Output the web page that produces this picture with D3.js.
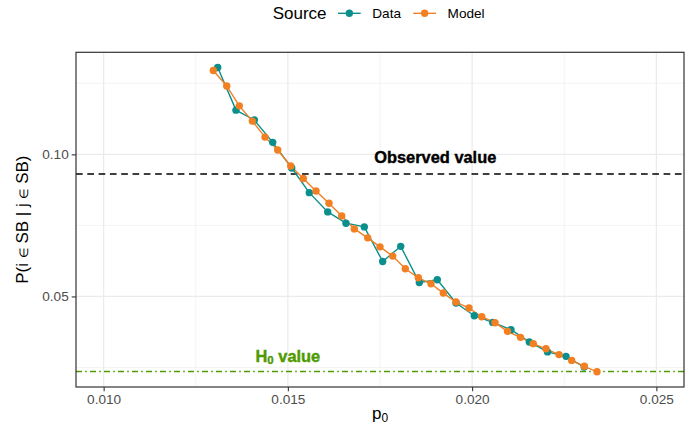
<!DOCTYPE html>
<html>
<head>
<meta charset="utf-8">
<script src="https://cdn.jsdelivr.net/npm/d3@7"></script>
<style>
  body { margin: 0; background: #fff; }
  text { font-family: "Liberation Sans", Arial, Helvetica, sans-serif; }
</style>
</head>
<body>
<svg id="chart" width="694" height="432"></svg>
<script>
// ---- data ----
const sources = ["Data", "Model"];
const sourceColors = ["#0a8f8c", "#f27f22"];

const dataP0 = [0.013096, 0.013592, 0.014089, 0.014588, 0.015104, 0.015581, 0.016081,
  0.016577, 0.017074, 0.017573, 0.018062, 0.018567, 0.019055, 0.019563, 0.020059,
  0.020559, 0.021055, 0.021552, 0.022046, 0.022548, 0.023042];
const dataP = [0.13055, 0.11555, 0.11208, 0.10421, 0.09519, 0.08652, 0.07974,
  0.07577, 0.07447, 0.06229, 0.06763, 0.05492, 0.05586, 0.04768, 0.04322,
  0.04087, 0.03831, 0.03399, 0.03048, 0.02893, 0.02514];

const modelP0 = [0.012976, 0.013340, 0.013682, 0.014035, 0.014379, 0.014724, 0.015077,
  0.015419, 0.015763, 0.016116, 0.016461, 0.016803, 0.017166, 0.017500, 0.017845,
  0.018187, 0.018540, 0.018884, 0.019218, 0.019563, 0.019915, 0.020260, 0.020621,
  0.020960, 0.021313, 0.021660, 0.022005, 0.022358, 0.022702, 0.023045, 0.023389];
const modelP = [0.12949, 0.12405, 0.11706, 0.11169, 0.10607, 0.10151, 0.09589,
  0.09150, 0.08711, 0.08279, 0.07834, 0.07377, 0.07061, 0.06745, 0.06419,
  0.05973, 0.05657, 0.05446, 0.05119, 0.04803, 0.04593, 0.04287, 0.04077,
  0.03771, 0.03560, 0.03339, 0.03157, 0.02953, 0.02749, 0.02542, 0.02349];

const observedValue = 0.0931;
const h0Value = 0.0236;

const xLimits = [0.010, 0.025];
const xTicks = [0.010, 0.015, 0.020, 0.025];
const xTickLabels = ["0.010", "0.015", "0.020", "0.025"];
const xMinor = [0.0125, 0.0175, 0.0225];
const yTicks = [0.05, 0.10];
const yTickLabels = ["0.05", "0.10"];
const yMinor = [0.025, 0.075, 0.125];

const observedLabel = { x: 0.019, y: 0.0991, text: "Observed value" };
const h0Label = { x: 0.015, y: 0.0292 };

// ---- layout ----
const W = 694, H = 432;
const panel = { left: 76, right: 684, top: 52.3, bottom: 387 };

const svg = d3.select("#chart");

function expand(lo, hi) { const d = (hi - lo) * 0.05; return [lo - d, hi + d]; }

const x = d3.scaleLinear().domain(expand(xLimits[0], xLimits[1])).range([panel.left, panel.right]);
const allY = dataP.concat(modelP, [observedValue, h0Value]);
const y = d3.scaleLinear().domain(expand(d3.min(allY), d3.max(allY))).range([panel.bottom, panel.top]);

svg.append("rect").attr("x", panel.left).attr("y", panel.top)
  .attr("width", panel.right - panel.left).attr("height", panel.bottom - panel.top)
  .attr("fill", "#fff");

const grid = svg.append("g");
xMinor.forEach(v => grid.append("line").attr("x1", x(v)).attr("x2", x(v))
  .attr("y1", panel.top).attr("y2", panel.bottom).attr("stroke", "#ebebeb").attr("stroke-width", 0.6));
yMinor.filter(v => y(v) > panel.top && y(v) < panel.bottom).forEach(v => grid.append("line")
  .attr("x1", panel.left).attr("x2", panel.right).attr("y1", y(v)).attr("y2", y(v))
  .attr("stroke", "#ebebeb").attr("stroke-width", 0.6));
xTicks.forEach(v => grid.append("line").attr("x1", x(v)).attr("x2", x(v))
  .attr("y1", panel.top).attr("y2", panel.bottom).attr("stroke", "#ebebeb").attr("stroke-width", 1.2));
yTicks.forEach(v => grid.append("line").attr("x1", panel.left).attr("x2", panel.right)
  .attr("y1", y(v)).attr("y2", y(v)).attr("stroke", "#ebebeb").attr("stroke-width", 1.2));

svg.append("line").attr("x1", panel.left).attr("x2", panel.right)
  .attr("y1", y(observedValue)).attr("y2", y(observedValue))
  .attr("stroke", "#000").attr("stroke-width", 1.5).attr("stroke-dasharray", "6.7,4.6");
svg.append("line").attr("x1", panel.left).attr("x2", panel.right)
  .attr("y1", y(h0Value)).attr("y2", y(h0Value))
  .attr("stroke", "#4f9a00").attr("stroke-width", 1.5).attr("stroke-dasharray", "6,3.2,1.6,3.2");

const series = [
  { name: sources[0], color: sourceColors[0], pts: dataP0.map((v, i) => [v, dataP[i]]) },
  { name: sources[1], color: sourceColors[1], pts: modelP0.map((v, i) => [v, modelP[i]]) }
];
const line = d3.line().x(d => x(d[0])).y(d => y(d[1]));
series.forEach(s => svg.append("path").attr("d", line(s.pts)).attr("fill", "none")
  .attr("stroke", s.color).attr("stroke-width", 1.4));
series.forEach(s => svg.append("g").selectAll("circle").data(s.pts).join("circle")
  .attr("cx", d => x(d[0])).attr("cy", d => y(d[1])).attr("r", 3.7).attr("fill", s.color));

svg.append("text").attr("x", x(observedLabel.x)).attr("y", y(observedLabel.y))
  .attr("text-anchor", "middle").attr("dominant-baseline", "central")
  .attr("font-size", 16.4).attr("font-weight", "bold").attr("fill", "#000")
  .attr("stroke", "#000").attr("stroke-width", 0.4)
  .text(observedLabel.text);
const h0t = svg.append("text").attr("x", x(h0Label.x)).attr("y", y(h0Label.y))
  .attr("text-anchor", "middle").attr("dominant-baseline", "central")
  .attr("font-size", 16.4).attr("font-weight", "bold").attr("fill", "#4f9a00")
  .attr("stroke", "#4f9a00").attr("stroke-width", 0.4);
h0t.append("tspan").text("H");
h0t.append("tspan").attr("font-size", 11.5).attr("dy", 4).text("0");
h0t.append("tspan").attr("dy", -4).text(" value");

svg.append("rect").attr("x", panel.left).attr("y", panel.top)
  .attr("width", panel.right - panel.left).attr("height", panel.bottom - panel.top)
  .attr("fill", "none").attr("stroke", "#333").attr("stroke-width", 1.2);

const xAxis = d3.axisBottom(x).tickValues(xTicks).tickFormat((d, i) => xTickLabels[i]).tickSize(4.3).tickPadding(3.5);
const gx = svg.append("g").attr("transform", `translate(0,${panel.bottom})`).call(xAxis);
const yAxis = d3.axisLeft(y).tickValues(yTicks).tickFormat((d, i) => yTickLabels[i]).tickSize(4.3).tickPadding(3);
const gy = svg.append("g").attr("transform", `translate(${panel.left},0)`).call(yAxis);
[gx, gy].forEach(g => {
  g.select(".domain").remove();
  g.selectAll(".tick line").attr("stroke", "#333").attr("stroke-width", 1.1);
  g.selectAll(".tick text").attr("fill", "#4d4d4d").attr("font-size", 13.6)
    .attr("font-family", '"Liberation Sans", Arial, sans-serif');
});

const xt = svg.append("text").attr("x", (panel.left + panel.right) / 2).attr("y", 419)
  .attr("text-anchor", "middle").attr("font-size", 17).attr("fill", "#000");
xt.append("tspan").text("p");
xt.append("tspan").attr("font-size", 12).attr("dy", 3).text("0");

const yt = svg.append("text")
  .attr("transform", `translate(28,${(panel.top + panel.bottom) / 2}) rotate(-90)`)
  .attr("text-anchor", "middle").attr("font-size", 17).attr("fill", "#000");
yt.append("tspan").text("P(i ");
yt.append("tspan").attr("font-size", 12).text("\u2208");
yt.append("tspan").text(" SB | j ");
yt.append("tspan").attr("font-size", 12).text("\u2208");
yt.append("tspan").text(" SB)");

const lg = svg.append("g");
lg.append("text").attr("x", 272.7).attr("y", 19).attr("font-size", 17).attr("fill", "#000").text("Source");
const keyX = [338, 413.3];
series.forEach((s, i) => {
  lg.append("line").attr("x1", keyX[i]).attr("x2", keyX[i] + 22.7).attr("y1", 13.3).attr("y2", 13.3)
    .attr("stroke", s.color).attr("stroke-width", 1.4);
  lg.append("circle").attr("cx", keyX[i] + 11.35).attr("cy", 13.3).attr("r", 3.7).attr("fill", s.color);
  lg.append("text").attr("x", keyX[i] + 34.3).attr("y", 18.2).attr("font-size", 13.6).attr("fill", "#000").text(s.name);
});
</script>
</body>
</html>
